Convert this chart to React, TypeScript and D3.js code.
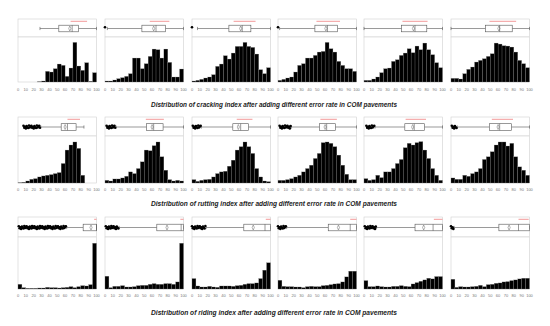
import React from "react";
import * as d3 from "d3";

// ── Data ──────────────────────────────────────────────────────────────────────

const binStarts = [0, 5, 10, 15, 20, 25, 30, 35, 40, 45, 50, 55, 60, 65, 70, 75, 80, 85, 90, 95];
const tickValues = [0, 10, 20, 30, 40, 50, 60, 70, 80, 90, 100];

const rowTitles = [
  "Distribution of cracking index after adding different error rate in COM pavements",
  "Distribution of rutting index after adding different error rate in COM pavements",
  "Distribution of riding index after adding different error rate in COM pavements",
];

// bin counts (relative), one array per error-rate panel
const crackingCounts = [
  [0, 0, 0, 0, 0, 1, 3, 32, 30, 40, 54, 50, 17, 42, 119, 48, 35, 58, 2, 28],
  [3, 3, 6, 10, 13, 17, 25, 72, 72, 40, 55, 77, 99, 97, 72, 99, 59, 15, 15, 39],
  [3, 5, 8, 12, 15, 22, 47, 54, 79, 69, 87, 107, 107, 119, 107, 104, 84, 37, 25, 43],
  [5, 8, 12, 15, 30, 50, 55, 72, 72, 80, 90, 92, 119, 100, 90, 62, 50, 40, 40, 32],
  [5, 5, 9, 15, 28, 40, 42, 62, 67, 80, 87, 100, 88, 108, 97, 117, 97, 82, 58, 43],
  [11, 11, 9, 25, 38, 45, 60, 65, 70, 77, 85, 117, 114, 109, 108, 105, 90, 65, 55, 43],
];
const ruttingCounts = [
  [1, 2, 6, 11, 13, 18, 21, 23, 25, 28, 31, 58, 98, 113, 122, 103, 23, 0, 0, 0],
  [8, 6, 12, 12, 15, 20, 33, 28, 43, 63, 98, 96, 111, 122, 78, 38, 10, 6, 8, 6],
  [10, 5, 8, 10, 11, 18, 28, 33, 35, 50, 68, 98, 108, 122, 108, 88, 43, 18, 6, 4],
  [8, 8, 10, 13, 18, 23, 33, 43, 53, 73, 88, 120, 122, 118, 108, 83, 53, 26, 10, 10],
  [13, 8, 10, 23, 16, 33, 33, 43, 58, 70, 105, 118, 113, 120, 123, 98, 73, 43, 23, 8],
  [15, 11, 11, 23, 20, 28, 33, 43, 70, 78, 93, 113, 122, 122, 110, 118, 78, 48, 38, 23],
];
const ridingCounts = [
  [14, 4, 2, 2, 2, 3, 3, 5, 4, 4, 3, 4, 5, 7, 4, 7, 10, 9, 13, 136],
  [38, 4, 8, 8, 10, 6, 6, 7, 10, 11, 11, 14, 16, 14, 14, 16, 16, 14, 21, 136],
  [31, 9, 6, 6, 8, 6, 5, 9, 9, 9, 8, 10, 11, 14, 16, 16, 18, 31, 56, 78],
  [26, 8, 7, 7, 6, 6, 4, 7, 8, 7, 7, 10, 11, 13, 15, 16, 21, 36, 53, 53],
  [25, 7, 7, 9, 7, 6, 6, 8, 8, 10, 8, 7, 15, 19, 23, 27, 32, 30, 37, 37],
  [29, 5, 7, 6, 6, 7, 8, 11, 7, 13, 14, 17, 18, 21, 22, 25, 27, 30, 32, 32],
];

// box plot summaries: whisker lo/hi, quartiles, median, mean, shortest-half bracket
const crackingBoxes = [
  { lo: 28, q1: 52, med: 69, q3: 77, hi: 100, mean: 66, sLo: 67, sHi: 88 },
  { lo: 3, q1: 47, med: 65, q3: 77, hi: 100, mean: 62, sLo: 57, sHi: 82 },
  { lo: 7, q1: 47, med: 64, q3: 75, hi: 100, mean: 62, sLo: 53, sHi: 81 },
  { lo: 2, q1: 47, med: 63, q3: 76, hi: 100, mean: 61, sLo: 49, sHi: 79 },
  { lo: 0, q1: 48, med: 65, q3: 80, hi: 100, mean: 63, sLo: 49, sHi: 81 },
  { lo: 0, q1: 44, med: 62, q3: 78, hi: 100, mean: 61, sLo: 49, sHi: 83 },
];
const ruttingBoxes = [
  { lo: 29, q1: 55, med: 63, q3: 74, hi: 84, mean: 60, sLo: 63, sHi: 79 },
  { lo: 14, q1: 53, med: 62, q3: 74, hi: 100, mean: 60, sLo: 52, sHi: 75 },
  { lo: 12, q1: 52, med: 62, q3: 72, hi: 100, mean: 59, sLo: 57, sHi: 77 },
  { lo: 17, q1: 53, med: 62, q3: 73, hi: 100, mean: 60, sLo: 54, sHi: 75 },
  { lo: 14, q1: 52, med: 64, q3: 77, hi: 100, mean: 62, sLo: 53, sHi: 79 },
  { lo: 8, q1: 49, med: 62, q3: 77, hi: 100, mean: 60, sLo: 52, sHi: 79 },
];
const ridingBoxes = [
  { lo: 62, q1: 83, med: 100, q3: 100, hi: 100, mean: 93, sLo: 97, sHi: 100 },
  { lo: 18, q1: 66, med: 97, q3: 100, hi: 100, mean: 79, sLo: 96, sHi: 100 },
  { lo: 18, q1: 66, med: 93, q3: 100, hi: 100, mean: 78, sLo: 94, sHi: 100 },
  { lo: 11, q1: 64, med: 92, q3: 100, hi: 100, mean: 77, sLo: 92, sHi: 100 },
  { lo: 16, q1: 65, med: 88, q3: 100, hi: 100, mean: 76, sLo: 89, sHi: 100 },
  { lo: 4, q1: 61, med: 86, q3: 100, hi: 100, mean: 74, sLo: 86, sHi: 99 },
];

// outlier values (dense clusters on the low side)
const crackingOutliers = [[], [0], [0], [0], [], []];
const ruttingOutliers = [
  [7, 8, 9, 10, 11, 12, 13, 14, 15, 16, 17, 18, 19, 20, 21, 22, 23, 24, 25, 26, 27, 28],
  [2, 3, 4, 5, 6, 7, 8, 9, 10, 11, 12, 13],
  [1, 2, 3, 4, 5, 6, 7, 8, 9, 10, 11],
  [2, 3, 4, 5, 6, 7, 8, 9, 10, 11, 12, 13, 14, 15, 16],
  [3, 4, 5, 6, 7, 8, 9, 10, 11, 12, 13],
  [1, 2, 3, 4, 5, 6, 7],
];
const ridingOutliers = [
  [1, 2, 3, 4, 5, 6, 7, 8, 9, 10, 11, 12, 13, 14, 15, 16, 17, 18, 19, 20, 21, 22, 23, 24, 25, 26, 27, 28, 29, 30,
    31, 32, 33, 34, 35, 36, 37, 38, 39, 40, 41, 42, 43, 44, 45, 46, 47, 48, 49, 50, 51, 52, 53, 54, 55, 56, 57, 58, 59, 60, 61],
  [1, 2, 3, 4, 5, 6, 7, 8, 9, 10, 11, 12, 13, 14, 15, 16, 17],
  [0, 1, 2, 3, 4, 5, 6, 7, 8, 9, 10, 11, 12, 13, 14, 15, 16, 17],
  [0, 1, 2, 3, 4, 5, 6, 7, 8, 9, 10],
  [1, 2, 3, 4, 5, 6, 7, 8, 9, 10, 11, 12, 13, 14, 15],
  [0, 1, 2, 3],
];

// ── Layout ────────────────────────────────────────────────────────────────────

const PANEL_X = [18, 105, 192, 278, 364, 451];
const PANEL_W = 78.5;
const ROWS = [
  { boxTop: 19, divider: 37, histBottom: 82, tickY: 90.5, titleY: 107 },
  { boxTop: 117, divider: 136, histBottom: 183, tickY: 191, titleY: 206 },
  { boxTop: 217, divider: 237, histBottom: 289, tickY: 296.5, titleY: 315 },
];
const JITTER = [-1.3, 0.8, -0.2, 1.4, -0.9, 0.3, 1.0, -1.5, 0.5, -0.6];
const FRAME = "#cfcfcf";

type Box = { lo: number; q1: number; med: number; q3: number; hi: number; mean: number; sLo: number; sHi: number };
type Layout = (typeof ROWS)[number];

function Panel({ x0, layout, yMax, counts, box, outliers }: { x0: number; layout: Layout; yMax: number; counts: number[]; box: Box; outliers: number[] }) {
  const x = d3.scaleLinear().domain([0, 100]).range([x0, x0 + PANEL_W]);
  // one y scale per row, so panels in a row are comparable
  const y = d3.scaleLinear().domain([0, yMax / 0.88]).range([layout.histBottom, layout.divider]);
  const cy = (layout.boxTop + layout.divider) / 2 + 0.5;
  const bh = 3.3;
  const sy = layout.boxTop + 2.3;

  return (
    <g>
      {/* frames */}
      <rect x={x0} y={layout.boxTop} width={PANEL_W} height={layout.divider - layout.boxTop} fill="#fff" stroke={FRAME} strokeWidth={0.6} />
      <rect x={x0} y={layout.divider} width={PANEL_W} height={layout.histBottom - layout.divider} fill="#fff" stroke={FRAME} strokeWidth={0.6} />

      {/* histogram */}
      {counts.map((c, i) => (
        <rect
          key={i}
          x={x(binStarts[i])}
          y={y(c)}
          width={x(binStarts[i] + 5) - x(binStarts[i])}
          height={layout.histBottom - y(c)}
          fill="#000"
          stroke="#8a8a8a"
          strokeWidth={0.25}
        />
      ))}

      {/* box plot */}
      <line x1={x(box.sLo)} x2={x(box.sHi)} y1={sy} y2={sy} stroke="#f08080" strokeWidth={0.8} />
      <line x1={x(box.lo)} x2={x(box.q1)} y1={cy} y2={cy} stroke="#555" strokeWidth={0.6} />
      <line x1={x(box.q3)} x2={x(box.hi)} y1={cy} y2={cy} stroke="#555" strokeWidth={0.6} />
      <line x1={x(box.lo)} x2={x(box.lo)} y1={cy - 1.6} y2={cy + 1.6} stroke="#555" strokeWidth={0.6} />
      <line x1={x(box.hi)} x2={x(box.hi)} y1={cy - 1.6} y2={cy + 1.6} stroke="#555" strokeWidth={0.6} />
      <rect x={x(box.q1)} y={cy - bh} width={x(box.q3) - x(box.q1)} height={bh * 2} fill="#fff" stroke="#555" strokeWidth={0.6} />
      <line x1={x(box.med)} x2={x(box.med)} y1={cy - bh} y2={cy + bh} stroke="#555" strokeWidth={0.6} />
      <polygon
        points={`${x(box.mean)},${cy - bh + 0.8} ${x(box.mean) + 1.1},${cy} ${x(box.mean)},${cy + bh - 0.8} ${x(box.mean) - 1.1},${cy}`}
        fill="none"
        stroke="#555"
        strokeWidth={0.45}
      />
      {outliers.map((v, i) => (
        <circle key={i} cx={x(v)} cy={cy + JITTER[i % JITTER.length]} r={1.3} fill="#000" />
      ))}

      {/* tick labels */}
      {tickValues.map((t) => (
        <text key={t} x={x(t)} y={layout.tickY} fontSize={4} fill="#777" textAnchor="middle" fontFamily="Liberation Sans, Arial, sans-serif">
          {t}
        </text>
      ))}
    </g>
  );
}

const ROW_DATA = [
  { counts: crackingCounts, boxes: crackingBoxes, outliers: crackingOutliers },
  { counts: ruttingCounts, boxes: ruttingBoxes, outliers: ruttingOutliers },
  { counts: ridingCounts, boxes: ridingBoxes, outliers: ridingOutliers },
];

export default function App() {
  return (
    <svg width={550} height={326} style={{ position: "absolute", left: 0, top: 0, background: "#fff" }}>
      {ROW_DATA.map((row, r) => {
        const yMax = d3.max(row.counts.flat()) ?? 1;
        return (
          <g key={r}>
            {PANEL_X.map((px, i) => (
              <Panel key={i} x0={px} layout={ROWS[r]} yMax={yMax} counts={row.counts[i]} box={row.boxes[i]} outliers={row.outliers[i]} />
            ))}
            <text
              x={274}
              y={ROWS[r].titleY}
              textAnchor="middle"
              fontSize={6.3}
              fontStyle="italic"
              fontWeight="bold"
              fill="#222"
              fontFamily="Liberation Sans, Arial, sans-serif"
              textLength={246}
              lengthAdjust="spacingAndGlyphs"
            >
              {rowTitles[r]}
            </text>
          </g>
        );
      })}
    </svg>
  );
}
